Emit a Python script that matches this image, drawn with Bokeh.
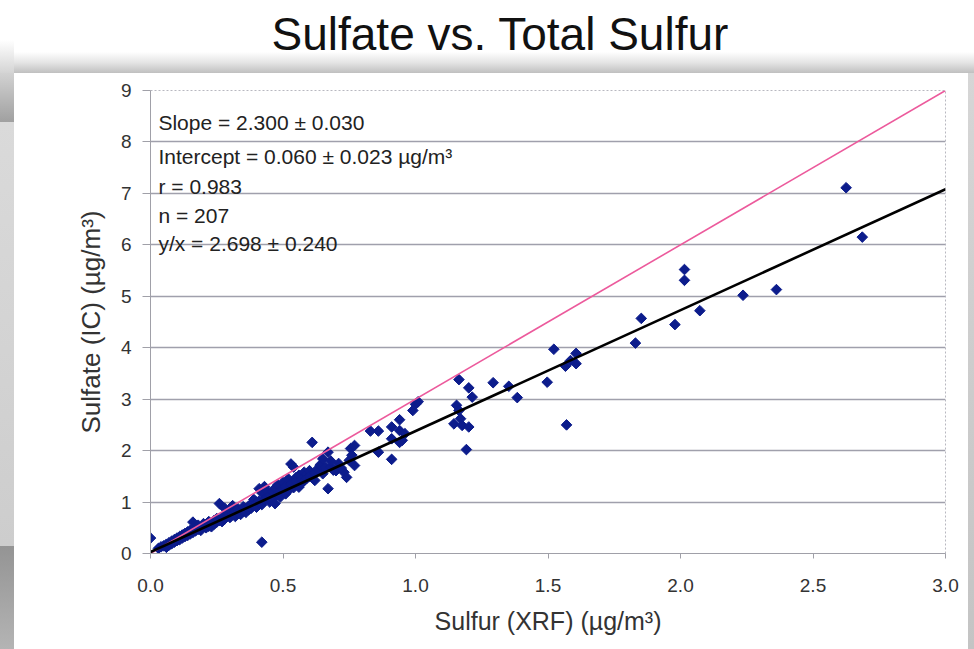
import numpy as np
from bokeh.plotting import figure
from bokeh.layouts import column
from bokeh.models import Label, Range1d, FixedTicker, NumeralTickFormatter, ColumnDataSource, InlineStyleSheet
from bokeh.embed import file_html
from bokeh.resources import INLINE

# ---------------- data ----------------
title_text = "Sulfate vs. Total Sulfur"
x_label = "Sulfur (XRF) (µg/m³)"
y_label = "Sulfate (IC) (µg/m³)"
x_ticks = [0.0, 0.5, 1.0, 1.5, 2.0, 2.5, 3.0]
y_ticks = [0, 1, 2, 3, 4, 5, 6, 7, 8, 9]

sulfur = [
    0.00, 0.03, 0.04, 0.05, 0.06, 0.06, 0.07, 0.07, 0.08, 0.08, 0.09, 0.09,
    0.10, 0.10, 0.11, 0.11, 0.12, 0.12, 0.13, 0.13, 0.14, 0.14, 0.15, 0.15,
    0.16, 0.16, 0.17, 0.17, 0.18, 0.18, 0.19, 0.19, 0.20, 0.20,
    0.21, 0.21, 0.22, 0.22, 0.23, 0.23, 0.24, 0.24, 0.25, 0.25, 0.26, 0.26,
    0.27, 0.27, 0.28, 0.28, 0.29, 0.29, 0.30, 0.30, 0.31, 0.31, 0.32, 0.32,
    0.33, 0.33, 0.34, 0.34, 0.35, 0.35, 0.36, 0.36, 0.37, 0.37, 0.38, 0.38,
    0.39, 0.39, 0.40, 0.40,
    0.41, 0.41, 0.42, 0.42, 0.42, 0.43, 0.43, 0.44, 0.44, 0.45, 0.45, 0.46,
    0.46, 0.47, 0.47, 0.48, 0.48, 0.49, 0.49, 0.50, 0.50, 0.51, 0.51, 0.52,
    0.52, 0.53, 0.53, 0.54, 0.54, 0.55, 0.55, 0.56, 0.56, 0.57, 0.57, 0.58,
    0.58, 0.59, 0.59, 0.60, 0.60,
    0.61, 0.62, 0.62, 0.63, 0.64, 0.65, 0.65, 0.66, 0.67, 0.67, 0.68, 0.69,
    0.70, 0.71, 0.73, 0.74, 0.75, 0.755, 0.76, 0.77, 0.77, 0.68, 0.72,
    0.83, 0.86, 0.86, 0.91, 0.91, 0.91, 0.94, 0.94, 0.96, 0.95, 0.99, 1.00,
    1.01, 0.94,
    1.145, 1.155, 1.164, 1.164, 1.17, 1.176, 1.192, 1.201, 1.201, 1.214,
    1.293, 1.352, 1.384, 1.497, 1.522, 1.566, 1.570, 1.585, 1.606, 1.606,
    1.83, 1.852, 1.979, 2.015, 2.015, 2.073, 2.236, 2.362, 2.625, 2.686,
]
sulfate = [
    0.30, 0.10, 0.13, 0.15, 0.12, 0.18, 0.16, 0.21, 0.19, 0.24, 0.22, 0.27,
    0.25, 0.30, 0.27, 0.33, 0.30, 0.36, 0.33, 0.39, 0.35, 0.42, 0.38, 0.45,
    0.61, 0.41, 0.44, 0.51, 0.47, 0.55, 0.50, 0.45, 0.53, 0.58,
    0.50, 0.56, 0.53, 0.62, 0.58, 0.52, 0.64, 0.57, 0.61, 0.68, 0.97, 0.64,
    0.70, 0.62, 0.88, 0.67, 0.74, 0.80, 0.70, 0.85, 0.93, 0.76, 0.81, 0.72,
    0.87, 0.78, 0.83, 0.76, 0.91, 0.82, 0.87, 0.80, 0.92, 0.85, 0.96, 0.88,
    0.93, 1.05, 1.00, 0.90,
    1.26, 1.02, 0.22, 1.18, 0.95, 1.30, 1.05, 1.10, 1.22, 1.14, 1.00, 1.06,
    1.20, 0.97, 1.27, 1.15, 1.33, 1.22, 1.10, 1.38, 1.24, 1.16, 1.30, 1.45,
    1.22, 1.35, 1.74, 1.68, 1.28, 1.48, 1.40, 1.29, 1.52, 1.36, 1.44, 1.42,
    1.58, 1.55, 1.46, 1.61, 1.50,
    2.16, 1.42, 1.56, 1.64, 1.72, 1.55, 1.84, 1.68, 1.26, 1.97, 1.68, 1.62,
    1.61, 1.75, 1.58, 1.48, 1.81, 2.04, 1.91, 2.10, 1.71, 1.80, 1.66,
    2.38, 2.38, 1.97, 2.46, 1.83, 2.23, 2.60, 2.39, 2.33, 2.20, 2.78, 2.90,
    2.95, 2.16,
    2.52, 2.88, 3.38, 2.78, 2.62, 2.49, 2.02, 3.22, 2.46, 3.04,
    3.32, 3.25, 3.03, 3.33, 3.97, 3.64, 2.50, 3.75, 3.89, 3.69,
    4.09, 4.57, 4.45, 5.52, 5.31, 4.72, 5.02, 5.13, 7.11, 6.15,
]

# regression line as drawn, and the reference line (slope 3)
fit_slope, fit_intercept = 2.35, 0.03
ref_slope, ref_intercept = 3.0, 0.0
line_x = [0.0, 3.0]

stats_lines = [
    "Slope = 2.300 ± 0.030",
    "Intercept = 0.060 ± 0.023 µg/m³",
    "r = 0.983",
    "n = 207",
    "y/x = 2.698 ± 0.240",
]
stats_y = [8.37, 7.71, 7.14, 6.57, 6.03]

# ---------------- layout ----------------
FONT = "Liberation Sans"
W = 974
TOP_H = 73
H = 649 - TOP_H

# --- title strip (slide title + shadow above the chart card)
top_css = InlineStyleSheet(css="""
:host {
  background:
    linear-gradient(to bottom, #ffffff 0px, #ffffff 40px, #d4d4d4 100%) 0 0 / 14px 100% no-repeat,
    linear-gradient(to bottom, #ffffff 52px, #e6e6e6 62px, #c0c0c0 73px);
}
""")
top = figure(width=W, height=TOP_H, output_backend="svg", toolbar_location=None,
             x_axis_type=None, y_axis_type=None, min_border=0,
             x_range=Range1d(0, 1), y_range=Range1d(0, 1),
             background_fill_alpha=0, border_fill_alpha=0, outline_line_color=None)
top.stylesheets = [top_css]
top.grid.visible = False
top.title.text = title_text
top.title.align = "left"
top.title.offset = 121
top.title.standoff = 28
top.title.text_font = FONT
top.title.text_font_size = "46px"
top.title.text_font_style = "normal"
top.title.text_color = "#111111"

# --- chart card
card_css = InlineStyleSheet(css="""
:host {
  background:
    linear-gradient(#ffffff, #ffffff) 14px 0 / calc(100% - 20px) 100% no-repeat,
    linear-gradient(to bottom, #d2d2d2 0px, #a0a0a0 49px, #dadada 49px, #cdcdcd 473px,
                    #949494 473px, #b4b4b4 100%) 0 0 / 14px 100% no-repeat,
    linear-gradient(to bottom, #d6d6d6, #c4c4c4) 100% 0 / 6px 100% no-repeat,
    #ffffff;
}
""")

p = figure(width=W, height=H, output_backend="svg", toolbar_location=None,
           x_range=Range1d(0, 3), y_range=Range1d(0, 9),
           min_border_left=150, min_border_right=29,
           min_border_top=90 - TOP_H, min_border_bottom=96,
           background_fill_color="white", border_fill_color="white",
           border_fill_alpha=0)
p.stylesheets = [card_css]
p.outline_line_color = "#b8b8c0"
p.outline_line_width = 1
p.outline_line_dash = "2 2"

# grid
p.xgrid.grid_line_color = None
p.ygrid.ticker = FixedTicker(ticks=y_ticks)
p.ygrid.grid_line_color = "#a0a0ac"
p.ygrid.grid_line_width = 1.5

# axes
p.xaxis.ticker = FixedTicker(ticks=x_ticks)
p.yaxis.ticker = FixedTicker(ticks=y_ticks)
p.xaxis.formatter = NumeralTickFormatter(format="0.0")
for ax in (p.xaxis[0], p.yaxis[0]):
    ax.axis_line_color = "#a0a0a8"
    ax.axis_line_width = 1
    ax.major_tick_line_color = "#a0a0a8"
    ax.major_tick_in = 0
    ax.minor_tick_line_color = None
    ax.major_label_text_font = FONT
    ax.major_label_text_font_size = "19px"
    ax.major_label_text_color = "#333333"
    ax.axis_label_text_font = FONT
    ax.axis_label_text_font_style = "normal"
    ax.axis_label_text_color = "#333333"
p.xaxis.axis_label_text_font_size = "25px"
p.yaxis.axis_label_text_font_size = "26px"
p.xaxis.major_tick_out = 5
p.yaxis.major_tick_out = 8
p.xaxis.major_label_standoff = 20
p.yaxis.major_label_standoff = 11
p.xaxis.axis_label = x_label
p.yaxis.axis_label = y_label
p.xaxis.axis_label_standoff = 12
p.yaxis.axis_label_standoff = 12

# points
src = ColumnDataSource(dict(x=sulfur, y=sulfate))
p.scatter("x", "y", source=src, marker="square", angle=np.pi / 4, size=7.5,
          fill_color="#0c1c8c", line_color="#0c1c8c")

# lines
lx = np.array(line_x)
p.line(lx, ref_slope * lx + ref_intercept, line_color="#ec5a9c", line_width=1.6)
p.line(lx, fit_slope * lx + fit_intercept, line_color="black", line_width=2.6)

# stats text
for txt, yy in zip(stats_lines, stats_y):
    p.add_layout(Label(x=0.03, y=yy, text=txt, text_font=FONT, text_font_size="21px",
                       text_color="#222222", text_baseline="middle", text_align="left"))

layout = column(top, p, spacing=0)
open("out.html", "w").write(file_html(layout, INLINE))
